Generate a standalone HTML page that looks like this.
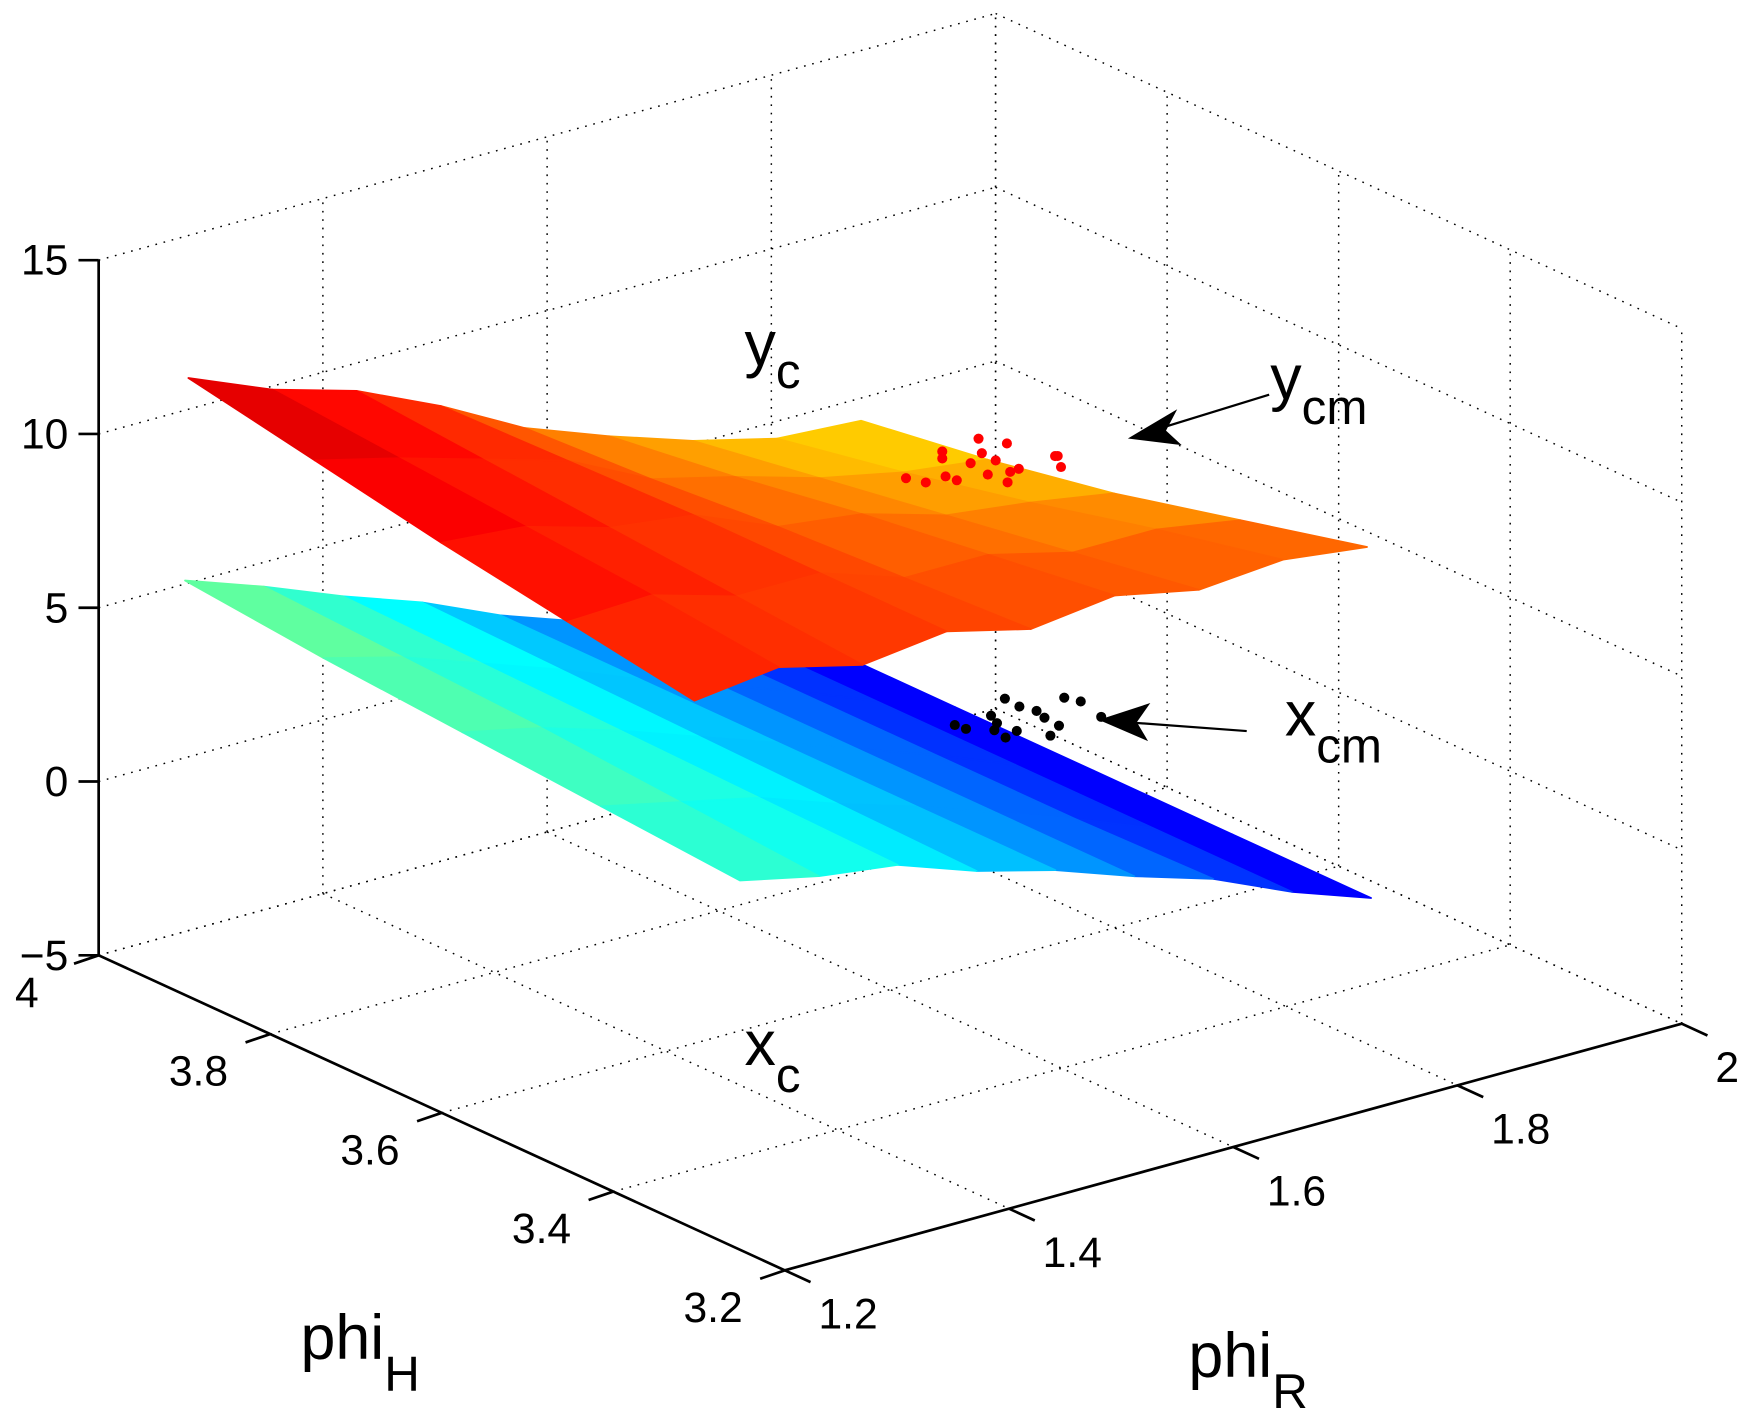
<!DOCTYPE html>
<html><head><meta charset="utf-8">
<style>
html,body{margin:0;padding:0;background:#fff;}
svg{display:block;}
text{font-family:"Liberation Sans",Arial,sans-serif;fill:#000;}
</style></head>
<body>
<svg id="chart" width="1749" height="1424" viewBox="0 0 1560 1270" xmlns="http://www.w3.org/2000/svg">
<g id="grid"></g>
<g id="surfaces"></g>
<g id="scatter"></g>
<g id="axes"></g>
<g id="annot">
  <text x="664" y="326" font-size="56">y<tspan font-size="44" dy="20">c</tspan></text>
  <text x="1133" y="356" font-size="56">y<tspan font-size="44" dy="22">cm</tspan></text>
  <text x="1146" y="656" font-size="56">x<tspan font-size="44" dy="24">cm</tspan></text>
  <text x="664" y="950" font-size="56">x<tspan font-size="44" dy="24">c</tspan></text>
  <text x="268" y="1212" font-size="56">phi<tspan font-size="44" dy="28">H</tspan></text>
  <text x="1060" y="1228" font-size="56">phi<tspan font-size="44" dy="28">R</tspan></text>
  <g>
    <line x1="1132" y1="352" x2="1015" y2="388" stroke="#000" stroke-width="2"/>
    <polygon points="1006,391 1050,365 1040,384 1054,397" fill="#000"/>
  </g>
  <g>
    <line x1="1112" y1="652" x2="990" y2="643" stroke="#000" stroke-width="2"/>
    <polygon points="980,642 1026,627 1014,644 1024,661" fill="#000"/>
  </g>
</g>
</svg>
<script>
// ---- data ----
const zTicks = [-5, 0, 5, 10, 15];
const hTicks = [3.2, 3.4, 3.6, 3.8, 4.0];
const rTicks = [1.2, 1.4, 1.6, 1.8, 2.0];
const zTickLabels = ["\u22125", "0", "5", "10", "15"];
const hTickLabels = ["3.2", "3.4", "3.6", "3.8", "4"];
const rTickLabels = ["1.2", "1.4", "1.6", "1.8", "2"];

// y_c surface: rows phi_H from hmin..hmax, cols phi_R rmin..rmax
const ycH = [3.41, 4.0];
const ycR = [1.28, 1.88];
const ycZ = [
 [8.3, 8.6, 8.0, 8.3, 7.7, 8.0, 7.5, 7.7, 7.4],
 [8.9, 9.0, 8.3, 8.3, 7.5, 7.5, 6.9, 6.9, 6.5],
 [9.5, 9.3, 8.6, 8.3, 7.3, 7.0, 6.3, 6.0, 5.6],
 [10.2, 9.6, 8.9, 8.2, 7.0, 6.4, 5.7, 5.2, 4.9],
 [10.9, 9.9, 9.2, 8.1, 6.8, 5.9, 5.1, 4.5, 4.35]
];
// x_c surface
const xcH = [3.353, 4.0];
const xcR = [1.277, 1.84];
const xcZ = [
 [3.8, 3.3, 3.0, 2.2, 1.6, 0.8, 0.1, -0.9, -1.7],
 [4.1, 3.6, 3.1, 2.3, 1.6, 0.8, 0.0, -0.9, -1.7],
 [4.4, 3.9, 3.2, 2.4, 1.6, 0.8, 0.0, -0.9, -1.7],
 [4.7, 4.1, 3.3, 2.5, 1.6, 0.8, 0.0, -0.9, -1.7],
 [5.1, 4.3, 3.4, 2.6, 1.6, 0.8, 0.0, -0.9, -1.7]
];
// measured points
const ycmH = [3.66,3.64,3.67,3.63,3.65,3.62,3.68,3.64,3.66,3.61,3.63,3.67,3.65,3.62,3.66,3.64,3.65,3.63];
const ycmR = [1.66,1.68,1.70,1.71,1.72,1.73,1.74,1.69,1.75,1.76,1.77,1.70,1.67,1.72,1.74,1.78,1.71,1.73];
const ycmZ = [8.5,8.6,8.6,8.5,8.8,8.6,8.7,8.4,8.7,8.5,8.5,8.8,8.4,8.3,8.3,8.3,8.6,8.4];
const xcmH = [3.76,3.74,3.77,3.75,3.73,3.78,3.76,3.74,3.72,3.77,3.75,3.73,3.76,3.74,3.75,3.74];
const xcmR = [1.78,1.80,1.82,1.83,1.85,1.84,1.86,1.81,1.88,1.90,1.87,1.83,1.79,1.85,1.81,1.82];
const xcmZ = [-0.8,-0.9,-1.0,-0.6,-1.1,-0.8,-1.3,-1.2,-1.0,-1.3,-0.7,-0.5,-1.0,-1.5,-0.9,-1.1];

// ---- projection ----
const NS = "http://www.w3.org/2000/svg";
function P(h, r, z) {
  const u = (h - 3.2) / 0.8, v = (r - 1.2) / 0.8;
  return [700 - 612 * u + 800 * v, 1133 - 281 * u - 220 * v - 31 * (z + 5)];
}
function mk(tag, attrs, parent) {
  const el = document.createElementNS(NS, tag);
  for (const k in attrs) el.setAttribute(k, attrs[k]);
  parent.appendChild(el);
  return el;
}
function line(a, b, parent, style) {
  return mk("line", Object.assign({x1:a[0], y1:a[1], x2:b[0], y2:b[1]}, style), parent);
}
const dot = {stroke:"#000", "stroke-width":1.3, "stroke-dasharray":"1.5 6"};
const grid = document.getElementById("grid");
rTicks.forEach(r => { const l = line(P(4, r, -5), P(4, r, 15), grid, dot);
  
   });
zTicks.forEach(z => { const l = line(P(4, 1.2, z), P(4, 2, z), grid, dot);
  
   });
hTicks.forEach(h => { const l = line(P(h, 2, -5), P(h, 2, 15), grid, dot);
  
   });
zTicks.forEach(z => { const l = line(P(4, 2, z), P(3.2, 2, z), grid, dot);
  
   });
rTicks.forEach(r => { const l = line(P(4, r, -5), P(3.2, r, -5), grid, dot);
  
   });
hTicks.forEach(h => { const l = line(P(h, 1.2, -5), P(h, 2, -5), grid, dot);
  
   });

// ---- jet colormap ----
function jet(t) {
  t = Math.max(0, Math.min(1, t));
  const f = x => Math.round(255 * Math.max(0, Math.min(1, x)));
  return "rgb(" + f(1.5 - Math.abs(4 * t - 3)) + "," + f(1.5 - Math.abs(4 * t - 2)) + "," + f(1.5 - Math.abs(4 * t - 1)) + ")";
}
const surfG = document.getElementById("surfaces");
function drawSurface(H, R, Z, cLo, cHi, name) {
  const g = mk("g", {}, surfG);
  
  
  const nh = Z.length, nr = Z[0].length;
  let zmin = Infinity, zmax = -Infinity;
  Z.forEach(row => row.forEach(z => { zmin = Math.min(zmin, z); zmax = Math.max(zmax, z); }));
  const hv = i => H[0] + (H[1] - H[0]) * i / (nh - 1);
  const rv = j => R[0] + (R[1] - R[0]) * j / (nr - 1);
  const quads = [];
  for (let i = 0; i < nh - 1; i++) for (let j = 0; j < nr - 1; j++) {
    quads.push({i, j, d: (hv(i) + hv(i + 1)) / 2 - 3.2 + (rv(j) + rv(j + 1)) / 2 - 1.2});
  }
  quads.sort((a, b) => b.d - a.d);
  quads.forEach(q => {
    const {i, j} = q;
    const pts = [[i, j], [i + 1, j], [i + 1, j + 1], [i, j + 1]].map(([a, b]) => P(hv(a), rv(b), Z[a][b]));
    const zav = (Z[i][j] + Z[i + 1][j] + Z[i + 1][j + 1] + Z[i][j + 1]) / 4;
    const col = jet(cLo + (cHi - cLo) * (zav - zmin) / (zmax - zmin));
    const p = mk("polygon", {points: pts.map(p => p.join(",")).join(" "), fill: col, stroke: col, "stroke-width": 1.5, "stroke-linejoin": "round"}, g);
    
    
  });
}
drawSurface(xcH, xcR, xcZ, 0.1, 0.5, "xc-surface");
drawSurface(ycH, ycR, ycZ, 0.66, 0.93, "yc-surface");

// scatter
const sc = document.getElementById("scatter");
function drawPts(H, R, Z, col, name) {
  H.forEach((h, k) => {
    const p = P(h, R[k], Z[k]);
    const c = mk("circle", {cx: p[0], cy: p[1], r: 4.5, fill: col}, sc);
    
    
  });
}
drawPts(ycmH, ycmR, ycmZ, "#ff0000", "ycm-point");
drawPts(xcmH, xcmR, xcmZ, "#000000", "xcm-point");

// axes
const ax = document.getElementById("axes");
const solid = {stroke: "#000", "stroke-width": 2.4};
let a;
a = line(P(4, 1.2, -5), P(4, 1.2, 15), ax, solid);


a = line(P(4, 1.2, -5), P(3.2, 1.2, -5), ax, solid);


a = line(P(3.2, 1.2, -5), P(3.2, 2, -5), ax, solid);


zTicks.forEach((z, k) => {
  const p = P(4, 1.2, z);
  const t = line(p, [p[0] - 18, p[1]], ax, solid);
  
  
  const tx = mk("text", {x: p[0] - 27, y: p[1] + 13, "font-size": 38, "text-anchor": "end"}, ax);
  tx.textContent = zTickLabels[k];
  
  
});
hTicks.forEach((h, k) => {
  const p = P(h, 1.2, -5), q = P(h, 1.18, -5);
  const t = line(p, [q[0] - 2, q[1] + 2], ax, solid);
  
  
  const tx = mk("text", {x: p[0] - 64, y: p[1] + 46, "font-size": 38, "text-anchor": "middle"}, ax);
  tx.textContent = hTickLabels[k];
  
  
});
rTicks.forEach((r, k) => {
  const p = P(3.2, r, -5), q = P(3.17, r, -5);
  const t = line(p, q, ax, solid);
  
  
  const tx = mk("text", {x: p[0] + 30, y: p[1] + 52, "font-size": 38, "text-anchor": "start"}, ax);
  tx.textContent = rTickLabels[k];
  
  
});
</script>
</body></html>
